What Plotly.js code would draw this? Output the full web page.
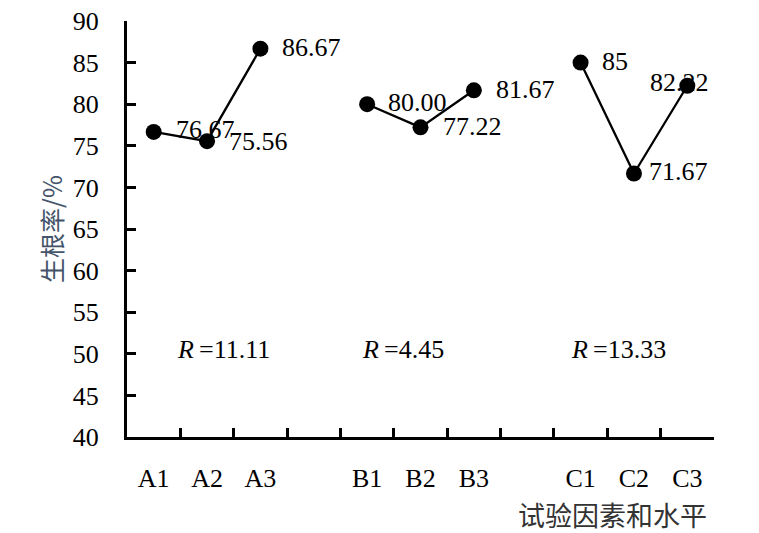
<!DOCTYPE html>
<html>
<head>
<meta charset="utf-8">
<script src="https://cdn.plot.ly/plotly-3.0.1.min.js"></script>
<style>html,body{margin:0;padding:0;background:#fff;}#chart{width:759px;height:533px;}</style>
</head>
<body>
<div id="chart"></div>
<script>
// ---- data ----
var categories = ['A1', 'A2', 'A3', ' ', 'B1', 'B2', 'B3', '  ', 'C1', 'C2', 'C3'];
var catsA = ['A1', 'A2', 'A3'];
var valsA = [76.67, 75.56, 86.67];
var labelsA = ['76.67', '75.56', '86.67'];
var catsB = ['B1', 'B2', 'B3'];
var valsB = [80.00, 77.22, 81.67];
var labelsB = ['80.00', '77.22', '81.67'];
var catsC = ['C1', 'C2', 'C3'];
var valsC = [85, 71.67, 82.22];
var labelsC = ['85', '71.67', '82.22'];
var rangeLabels = ['11.11', '4.45', '13.33'];
var yTitle = '生根率/%';
var xTitle = '试验因素和水平';

// ---- drawing ----
var FONT = '"Liberation Serif", "Noto Sans CJK SC", serif';
var CJK = '"Noto Sans CJK SC", sans-serif';
var FS = 26;

function series(x, y) {
  return {
    type: 'scatter', mode: 'lines+markers', x: x, y: y,
    line: {color: '#000', width: 2.3},
    marker: {color: '#000', size: 16},
    hoverinfo: 'x+y', showlegend: false
  };
}
var traces = [series(catsA, valsA), series(catsB, valsB), series(catsC, valsC)];

var annotations = [];
// data label offsets (layout only)
var groups = [
  {x: catsA, y: valsA, t: labelsA, shift: [[20, 2, 'left'], [20, 0, 'left'], [20, 1, 'left']]},
  {x: catsB, y: valsB, t: labelsB, shift: [[19, 2, 'left'], [20, 1, 'left'], [20, 1, 'left']]},
  {x: catsC, y: valsC, t: labelsC, shift: [[19, 1, 'left'], [13, 2, 'left'], [-8, 3, 'center']]}
];
groups.forEach(function (g) {
  g.x.forEach(function (xv, i) {
    annotations.push({
      x: xv, y: g.y[i], xref: 'x', yref: 'y', text: g.t[i], showarrow: false,
      xanchor: g.shift[i][2], yanchor: 'middle', xshift: g.shift[i][0], yshift: g.shift[i][1],
      font: {family: FONT, size: FS, color: '#000'}
    });
  });
});
var rPos = [1.31, 4.67, 8.71];
rangeLabels.forEach(function (r, i) {
  annotations.push({
    x: rPos[i], y: 50.5, xref: 'x', yref: 'y', text: '<i>R</i>\u2009=' + r, showarrow: false,
    xanchor: 'center', yanchor: 'middle',
    font: {family: FONT, size: FS, color: '#000'}
  });
});
annotations.push({
  x: 1, y: 0, xref: 'paper', yref: 'paper', text: xTitle, showarrow: false,
  xanchor: 'right', yanchor: 'middle', xshift: -5, yshift: -77,
  font: {family: CJK, size: 27, color: '#333'}
});

var layout = {
  width: 759, height: 533,
  margin: {l: 127, r: 45, t: 21, b: 96, pad: 0},
  paper_bgcolor: '#fff', plot_bgcolor: '#fff',
  showlegend: false,
  xaxis: {
    type: 'category', categoryorder: 'array', categoryarray: categories,
    range: [-0.5, 10.5], tickson: 'boundaries',
    ticks: 'inside', ticklen: 9, tickwidth: 3, tickcolor: '#000',
    showline: true, linewidth: 3, linecolor: '#000',
    showgrid: false, zeroline: false, fixedrange: true,
    tickfont: {family: FONT, size: FS, color: '#000'},
    ticklabelstandoff: 16
  },
  yaxis: {
    range: [40, 90], dtick: 5, tick0: 40,
    ticks: 'inside', ticklen: 9, tickwidth: 3, tickcolor: '#000',
    showline: true, linewidth: 3, linecolor: '#000',
    showgrid: false, zeroline: false, fixedrange: true,
    tickfont: {family: FONT, size: FS, color: '#000'},
    ticklabelstandoff: 20,
    title: {text: yTitle, font: {family: CJK, size: 25, color: '#44546a'}, standoff: 4}
  },
  annotations: annotations
};

Plotly.newPlot('chart', traces, layout, {displayModeBar: false, staticPlot: true});
</script>
</body>
</html>
